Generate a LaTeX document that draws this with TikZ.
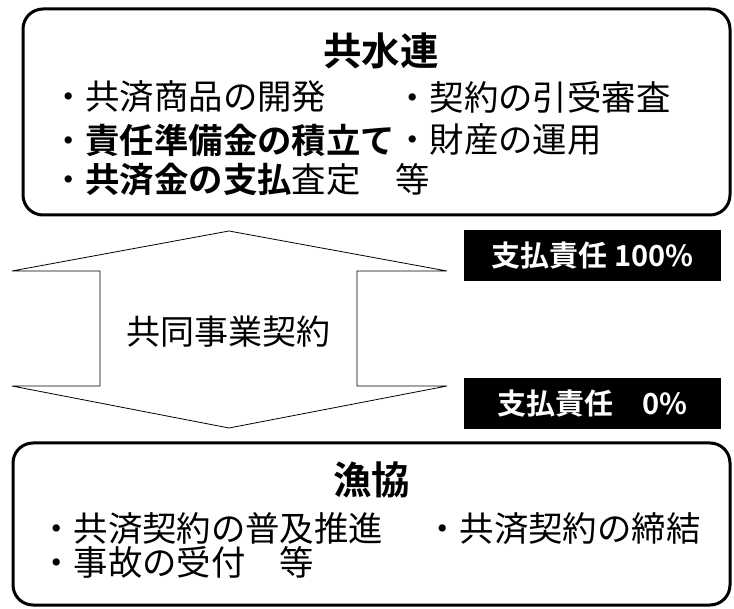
\documentclass[tikz,border=0pt]{standalone}
\usepackage{fontspec}
\setmainfont{Noto Sans CJK JP}[BoldFont={Noto Sans CJK JP Bold}]
\tikzset{
  orgbox/.style={draw, line width=3pt, rounded corners=20pt, inner sep=0pt},
  item/.style={anchor=west, inner sep=0pt, font=\fontsize{34.4}{34.4}\selectfont},
  title/.style={inner sep=0pt, font=\bfseries\fontsize{38.5}{38.5}\selectfont},
  tag/.style={fill=black, text=white, inner sep=0pt, minimum width=257pt,
    minimum height=51pt, font=\bfseries\fontsize{29}{29}\selectfont},
}
\begin{document}
\begin{tikzpicture}[x=1pt,y=-1pt]
      \useasboundingbox (0,0) rectangle (734,609);
      \node[orgbox, minimum width=707pt, minimum height=206pt] (kyosuiren) at (376.5,112) {};
      \node[orgbox, minimum width=717pt, minimum height=162pt] (gyokyo) at (371.5,524) {};
      \node[title] (kyosuirentitle) at (381,51) {共水連};
      \node[item] (k1) at (51,97) {・共済商品の開発};
      \node[item] (k2) at (395,97) {・契約の引受審査};
      \node[item] (k3) at (51,140) {・\textbf{責任準備金の積立て}};
      \node[item] (k4) at (395,140) {・財産の運用};
      \node[item] (k5) at (51,180) {・\textbf{共済金の支払}査定　等};
      \node[title] (gyokyotitle) at (371.5,480) {漁協};
      \node[item] (g1) at (39,529) {・共済契約の普及推進};
      \node[item] (g2) at (425,529) {・共済契約の締結};
      \node[item] (g3) at (39,562) {・事故の受付　等};
      \draw[line width=0.8pt]
        (229,231) coordinate (up)
        -- (447,271) -- (357,271) -- (357,386) -- (447,386)
        -- (229,428) coordinate (down)
        -- (12,386) -- (100,386) -- (100,271) -- (12,271) -- cycle;
      \node[inner sep=0pt, font=\fontsize{34}{34}\selectfont] (contract) at (228,332) {共同事業契約};
      \node[tag] (resp100) at (592.5,255.5) {支払責任 100\%};
      \node[tag] (resp0) at (592.5,403.5) {支払責任　0\%};
    \end{tikzpicture}
\end{document}
